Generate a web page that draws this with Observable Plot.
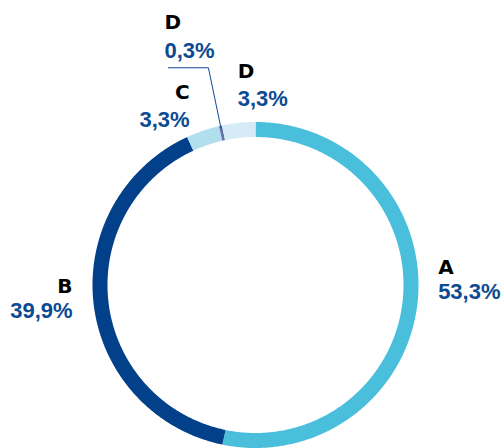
<!DOCTYPE html>
<html><head><meta charset="utf-8">
<script src="https://cdn.jsdelivr.net/npm/d3@7"></script>
<script src="https://cdn.jsdelivr.net/npm/@observablehq/plot@0.6"></script>
<style>body{margin:0;background:#fff}</style>
</head><body><div id="chart"></div>
<script>
// ---- data ----
const categories = ["A", "B", "C", "D", "D"];
const values = [53.3, 39.9, 3.3, 0.3, 3.3];
const valueLabels = ["53,3%", "39,9%", "3,3%", "0,3%", "3,3%"];
const colors = ["#49bfdb", "#03408a", "#b2dfee", "#6670ad", "#d5ecf6"];

// ---- layout (pixels; 1 data unit = 1 px, origin at ring centre, y up) ----
const W = 504, H = 448, cx = 255, cy = 284.5, R = 155.5, ringWidth = 15, labelR = 1.2;
const labelLayout = [
  {anchor: "start", dx: -3,  dy: -5.5, nameDy: -25},
  {anchor: "end",   dx: 2.5, dy: 11.5, nameDy: -25},
  {anchor: "end",   dx: -5.5, dy: 19,  nameDy: -28},
  {anchor: "start", dx: -51, dy: -45,  nameDy: -29, leader: true},
  {anchor: "start", dx: 1.5, dy: 7,    nameDy: -28}
];

const total = d3.sum(values);
let cum = 0;
const segs = values.map((v, i) => {
  const a0 = cum / total * 2 * Math.PI; cum += v;
  const a1 = cum / total * 2 * Math.PI;
  return {i, a0, a1, mid: (a0 + a1) / 2};
});

// arc outlines
const arcPts = s => {
  const n = Math.max(2, Math.ceil((s.a1 - s.a0) / (Math.PI / 360)));
  return d3.range(n + 1).map(k => {
    const a = s.a0 + (s.a1 - s.a0) * k / n;
    return {x: R * Math.sin(a), y: R * Math.cos(a)};
  });
};

const labels = segs.map(s => {
  const L = labelLayout[s.i];
  const x = labelR * R * Math.sin(s.mid) + L.dx;
  const y = labelR * R * Math.cos(s.mid) - L.dy;
  return {name: categories[s.i], pct: valueLabels[s.i], x, y, ny: y - L.nameDy, anchor: L.anchor, s, L};
});

const leaders = labels.filter(d => d.L.leader).map(d => [
  {x: (R + 5) * Math.sin(d.s.mid), y: (R + 5) * Math.cos(d.s.mid)},
  {x: d.x + 44, y: d.y - 10},
  {x: d.x + 4, y: d.y - 10}
]);

const marks = [];
segs.forEach(s => marks.push(Plot.line(arcPts(s), {x: "x", y: "y", stroke: colors[s.i], strokeWidth: ringWidth, strokeLinecap: "butt"})));
leaders.forEach(l => marks.push(Plot.line(l, {x: "x", y: "y", stroke: "#0c4a92", strokeWidth: 1})));
for (const anchor of ["start", "end"]) {
  const sub = labels.filter(d => d.anchor === anchor);
  marks.push(Plot.text(sub, {x: "x", y: "ny", text: "name", textAnchor: anchor, lineAnchor: "bottom",
    fontFamily: "DejaVu Sans", fontWeight: "bold", fontSize: 20, fill: "#000"}));
  marks.push(Plot.text(sub, {x: "x", y: "y", text: "pct", textAnchor: anchor, lineAnchor: "bottom",
    fontFamily: "Liberation Sans", fontWeight: "bold", fontSize: 22, fill: "#0c4a92"}));
}

const chart = Plot.plot({
  width: W, height: H, margin: 0,
  x: {domain: [-cx, W - cx], axis: null},
  y: {domain: [-(H - cy), cy], axis: null},
  style: {background: "#fff"},
  marks
});
document.getElementById("chart").append(chart);
</script>
</body></html>
